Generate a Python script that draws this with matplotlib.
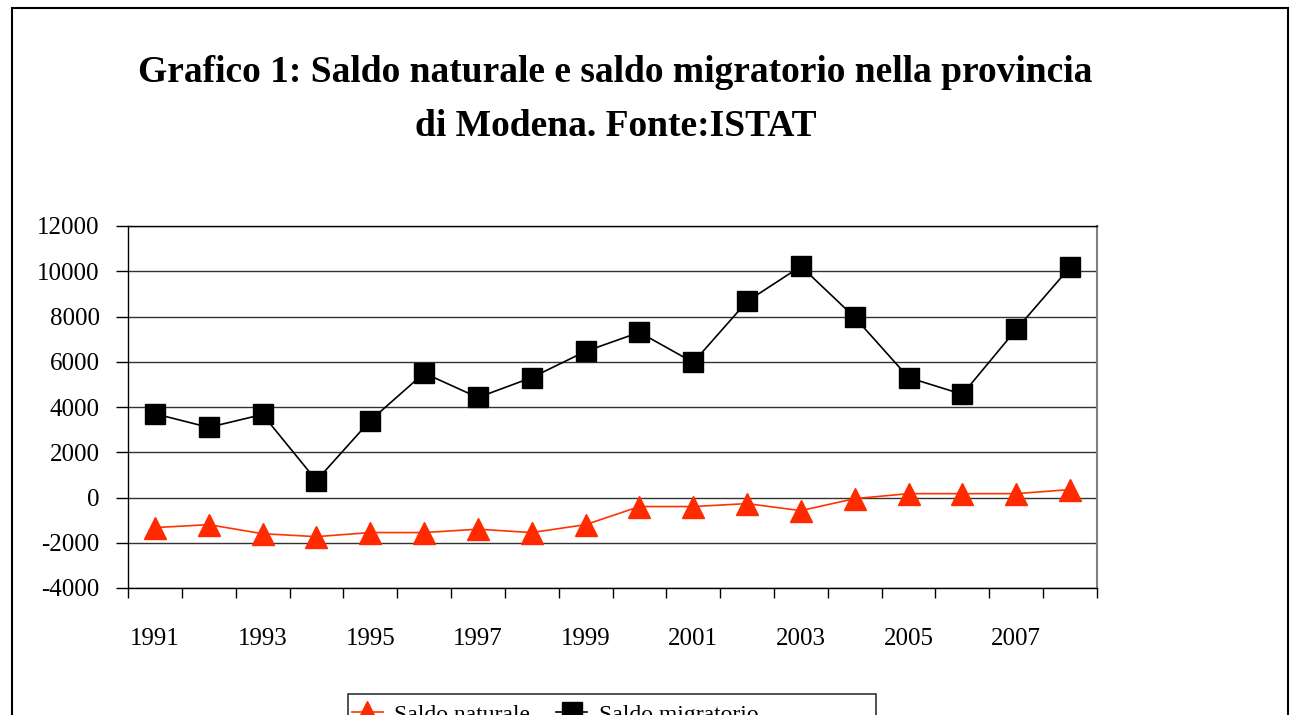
import matplotlib
matplotlib.use("Agg")
import matplotlib.pyplot as plt
import matplotlib.patches as patches
import numpy as np

# data
years = list(range(1991, 2009))
saldo_naturale = [-1330, -1200, -1600, -1730, -1550, -1550, -1400, -1550, -1200,
                  -400, -400, -270, -580, -50, 170, 170, 170, 350]
saldo_migratorio = [3700, 3100, 3670, 750, 3400, 5500, 4420, 5300, 6460,
                    7300, 5970, 8670, 10220, 7960, 5300, 4560, 7430, 10180]
year_labels = [str(y) for y in years[::2]]
y_ticks = list(range(-4000, 12001, 2000))

plt.rcParams['font.family'] = ['Liberation Serif', 'DejaVu Serif']

fig = plt.figure(figsize=(12.96, 7.15), dpi=100)
ax = fig.add_axes([128/1296, 1 - 588/715, (1097 - 128)/1296, (588 - 226)/715])

x = np.arange(len(years))
ax.plot(x, saldo_naturale, color='#ff3300', lw=1.2, marker='^', markersize=16,
        markerfacecolor='#ff2a00', markeredgecolor='#ff2a00', label='Saldo naturale', zorder=3)
ax.plot(x, saldo_migratorio, color='black', lw=1.2, marker='s', markersize=15,
        markerfacecolor='black', markeredgecolor='black', label='Saldo migratorio', zorder=3)

# axes setup
ax.set_ylim(-4000, 12000)
ax.set_yticks(y_ticks)
ax.set_yticklabels([str(v) for v in y_ticks])
ax.set_xlim(-0.5, len(years) - 0.5)
ax.set_xticks(np.arange(-0.5, len(years), 1.0))
ax.set_xticklabels([])
ax.set_xticks(x[::2], minor=True)
ax.set_xticklabels(year_labels, minor=True)

ax.tick_params(axis='y', direction='out', length=8.5, width=1, pad=12, labelsize=18)
ax.tick_params(axis='x', which='major', direction='out', length=7.5, width=1)
ax.tick_params(axis='x', which='minor', length=0, pad=29, labelsize=18)

ax.yaxis.grid(True, color='#333333', lw=1)
ax.set_axisbelow(True)
for s in ['left', 'bottom', 'top']:
    ax.spines[s].set_color('black')
    ax.spines[s].set_linewidth(1)
ax.spines['right'].set_color('#808080')
ax.spines['right'].set_linewidth(1.5)

# title
fig.text(0.475, 1 - 73/715, 'Grafico 1: Saldo naturale e saldo migratorio nella provincia',
         ha='center', va='center', fontsize=27, fontweight='bold')
fig.text(0.475, 1 - 127/715, 'di Modena. Fonte:ISTAT',
         ha='center', va='center', fontsize=27, fontweight='bold')

# legend, cut off at the bottom like the source
leg = fig.legend(loc='upper left', bbox_to_anchor=(352/1296, 1 - 704/715),
                 ncol=2, fontsize=17, frameon=False, borderaxespad=0, borderpad=0,
                 handlelength=1.3, handletextpad=0.5, columnspacing=1.1)
fig.patches.append(patches.Rectangle((348/1296, -0.1), (876 - 348)/1296, 0.1 + 1 - 694/715,
                                     transform=fig.transFigure, fill=False,
                                     edgecolor='#333333', lw=1.2, clip_on=False))

# outer chart border
fig.patches.append(patches.Rectangle((12/1296, -0.1), (1288 - 12)/1296, 1.1 - 8/715,
                                     transform=fig.transFigure, fill=False,
                                     edgecolor='black', lw=1.5, clip_on=False))

fig.savefig('out.png', dpi=100)
